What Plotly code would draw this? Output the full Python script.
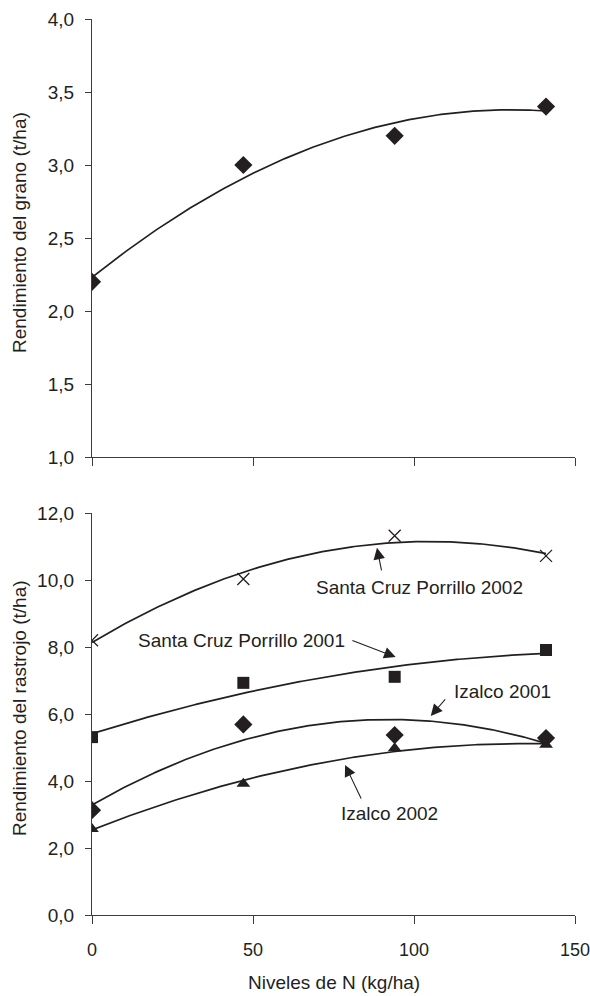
import numpy as np
import plotly.graph_objects as go

# ---------------- data ----------------
N = [0, 47, 94, 141]                       # Niveles de N (kg/ha)
grano = [2.2, 3.0, 3.2, 3.4]               # Rendimiento del grano (t/ha)
scp2002 = [8.2, 10.03, 11.32, 10.72]       # Santa Cruz Porrillo 2002 (rastrojo)
scp2001 = [5.31, 6.93, 7.11, 7.91]         # Santa Cruz Porrillo 2001
izalco2001 = [3.13, 5.69, 5.37, 5.28]      # Izalco 2001
izalco2002 = [2.57, 3.92, 4.98, 5.08]      # Izalco 2002
x_ticks = [0, 50, 100, 150]
y_ticks_top = [1.0, 1.5, 2.0, 2.5, 3.0, 3.5, 4.0]
y_ticks_bot = [0.0, 2.0, 4.0, 6.0, 8.0, 10.0, 12.0]
series_names = ["Santa Cruz Porrillo 2002", "Santa Cruz Porrillo 2001",
                "Izalco 2001", "Izalco 2002"]

# ---------------- style ----------------
INK = "#231f20"
AX = "#3c3c3c"
FONT = "Liberation Sans, Arial, Helvetica, sans-serif"
FS = 19
W, H = 590, 996


def px_x(p):
    return p / W


def px_y(p):
    return 1 - p / H


def trend(xv, yv):
    coef = np.polyfit(xv, yv, 2)
    xs = np.linspace(min(xv), max(xv), 200)
    return xs, np.polyval(coef, xs)


fig = go.Figure()

# top panel
xs, ys = trend(N, grano)
fig.add_trace(go.Scatter(x=xs, y=ys, mode="lines", line=dict(color=INK, width=1.7),
                         xaxis="x", yaxis="y", showlegend=False, hoverinfo="skip"))
fig.add_trace(go.Scatter(x=N, y=grano, mode="markers", xaxis="x", yaxis="y",
                         marker=dict(symbol="diamond", size=14, color=INK),
                         showlegend=False, name="Grano"))

# bottom panel
bottom = [
    (scp2002, dict(symbol="x-thin", size=12, color=INK, line=dict(width=1.3, color=INK))),
    (scp2001, dict(symbol="square", size=12, color=INK)),
    (izalco2001, dict(symbol="diamond", size=14, color=INK)),
    (izalco2002, dict(symbol="triangle-up", size=12, color=INK)),
]
for (vals, mk), name in zip(bottom, series_names):
    xs, ys = trend(N, vals)
    fig.add_trace(go.Scatter(x=xs, y=ys, mode="lines", line=dict(color=INK, width=1.7),
                             xaxis="x2", yaxis="y2", showlegend=False, hoverinfo="skip"))
    fig.add_trace(go.Scatter(x=N, y=vals, mode="markers", marker=mk, name=name,
                             xaxis="x2", yaxis="y2", showlegend=False))

# ---------------- axes ----------------
xdom = [px_x(92), px_x(575)]
common_x = dict(range=[0, 150], tickvals=x_ticks, ticks="outside", ticklen=8,
                tickcolor=AX, showline=True, linecolor=AX, linewidth=1.2,
                showgrid=False, zeroline=False, domain=xdom, automargin=False,
                ticklabeloverflow="allow", ticklabelstandoff=10,
                tickfont=dict(family=FONT, size=18, color=INK))
common_y = dict(ticks="outside", ticklen=6, tickcolor=AX, showline=True,
                linecolor=AX, linewidth=1.2, showgrid=False, zeroline=False,
                tickformat=".1f", ticklabelstandoff=7, automargin=False,
                tickfont=dict(family=FONT, size=FS, color=INK))

fig.update_layout(
    width=W, height=H,
    margin=dict(l=0, r=0, t=0, b=0, autoexpand=False),
    paper_bgcolor="white", plot_bgcolor="white",
    separators=", ",
    showlegend=False,
    xaxis=dict(common_x, anchor="y", showticklabels=False),
    yaxis=dict(common_y, anchor="x", range=[1.0, 4.0], tickvals=y_ticks_top,
               domain=[px_y(457), px_y(19)]),
    xaxis2=dict(common_x, anchor="y2"),
    yaxis2=dict(common_y, anchor="x2", range=[0.0, 12.0], tickvals=y_ticks_bot,
                domain=[px_y(915), px_y(513)]),
)

# ---------------- annotations ----------------
# label text positions (data coords of bottom panel) and arrows (tail -> head)
label_pos = [(101.8, 9.79), (46.4, 8.18), (127.4, 6.66), (92.5, 3.04)]
arrow_head = [(88.5, 10.96), (94.3, 7.70), (105.2, 5.94), (78.6, 4.48)]
arrow_tail = [(90.0, 10.24), (80.4, 8.21), (110.1, 6.48), (83.8, 3.43)]

anns = []
for name, (tx, ty), (hx, hy), (ax_, ay_) in zip(series_names, label_pos, arrow_head, arrow_tail):
    anns.append(dict(x=tx, y=ty, xref="x2", yref="y2", text=name, showarrow=False,
                     font=dict(family=FONT, size=FS, color=INK),
                     xanchor="center", yanchor="middle"))
    anns.append(dict(x=hx, y=hy, xref="x2", yref="y2", ax=ax_, ay=ay_,
                     axref="x2", ayref="y2", text="", showarrow=True,
                     arrowhead=2, arrowsize=2.1, arrowwidth=1.1, arrowcolor=INK,
                     standoff=0, startstandoff=0))

# axis titles
anns.append(dict(x=px_x(19), y=px_y(233), xref="paper", yref="paper",
                 text="Rendimiento del grano (t/ha)", textangle=-90, showarrow=False,
                 font=dict(family=FONT, size=FS, color=INK),
                 xanchor="center", yanchor="middle"))
anns.append(dict(x=px_x(19), y=px_y(708), xref="paper", yref="paper",
                 text="Rendimiento del rastrojo (t/ha)", textangle=-90, showarrow=False,
                 font=dict(family=FONT, size=FS, color=INK),
                 xanchor="center", yanchor="middle"))
anns.append(dict(x=px_x(334), y=px_y(982), xref="paper", yref="paper",
                 text="Niveles de N (kg/ha)", showarrow=False,
                 font=dict(family=FONT, size=FS, color=INK),
                 xanchor="center", yanchor="middle"))
fig.update_layout(annotations=anns)

fig.write_html("out.html")
